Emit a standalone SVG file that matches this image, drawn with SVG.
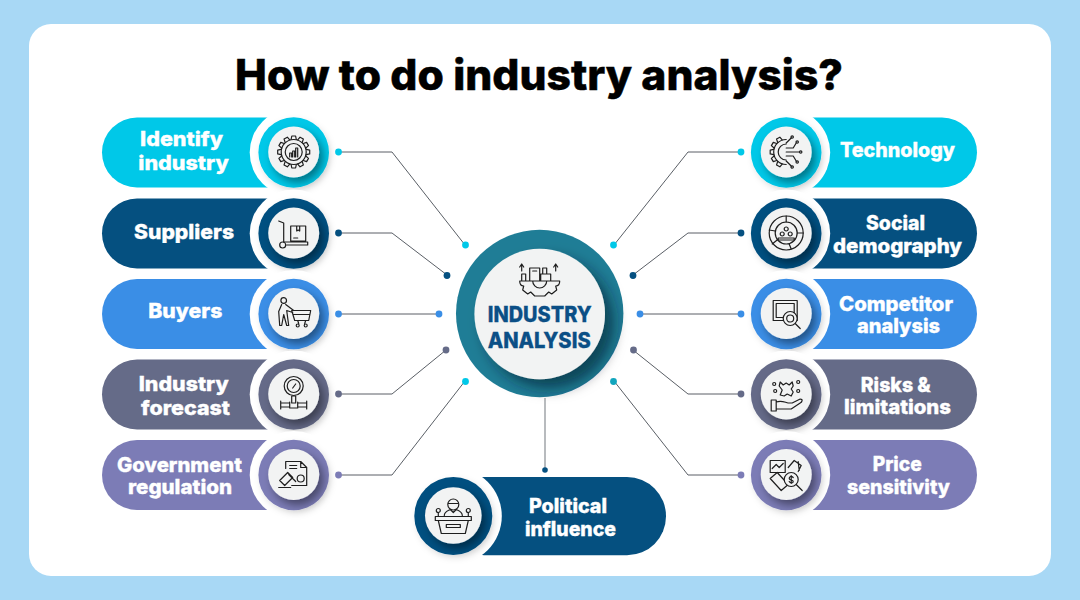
<svg xmlns="http://www.w3.org/2000/svg" width="1080" height="600" viewBox="0 0 1080 600">
<style>
text{font-family:"Inter","Open Sans","Liberation Sans",sans-serif;font-weight:800}
.t{fill:#fff;stroke:#fff;stroke-width:.35;font-size:20px}
.ct{fill:#0b4f86;stroke:#0b4f86;stroke-width:.3;font-size:21.5px}
.ttl{fill:#000;stroke:#000;stroke-width:.5;font-size:42px}
.ln{fill:none;stroke:#5a5f66;stroke-width:1}
.ic{fill:none;stroke:#1e1e1e;stroke-width:1.2;stroke-linejoin:round;stroke-linecap:round}
.face{fill:#f2f3f3;filter:url(#sh)}
.cut{fill:#fff}
.ring{filter:url(#cs)}
.cy{fill:#00c8e8}.nv{fill:#055080}.bl{fill:#3a8ee6}.sl{fill:#656b88}.pu{fill:#7c7cb6}
</style>
<defs>
<filter id="sh" x="-40%" y="-40%" width="190%" height="190%"><feDropShadow dx="4" dy="5" stdDeviation="4" flood-color="#000" flood-opacity=".42"/></filter>
<filter id="sh2" x="-30%" y="-30%" width="170%" height="170%"><feDropShadow dx="9" dy="9" stdDeviation="7" flood-color="#00222e" flood-opacity=".6"/></filter>
<filter id="cs" x="-20%" y="-20%" width="145%" height="145%"><feDropShadow dx="2" dy="3" stdDeviation="3" flood-color="#000" flood-opacity=".13"/></filter>
<path id="tooth" d="M-2.600 -12.500L-1.900 -16H1.900L2.600 -12.500"/>
</defs>
<rect width="1080" height="600" fill="#a8d8f5"/>
<rect x="29" y="24" width="1022" height="552" rx="22" fill="#fff"/>
<text class="ttl" x="235" y="90" textLength="608" lengthAdjust="spacingAndGlyphs">How to do industry analysis?</text>

<g id="node-identify-industry">
<rect class="cy" x="102" y="117.500" width="200" height="70" rx="35"/><circle class="cut" cx="293.700" cy="152.500" r="44"/><circle class="cy ring" cx="293.700" cy="152.500" r="35.300"/><circle class="face" cx="293.700" cy="152" r="25.500"/>
<g class="ic" transform="translate(293.700 152)"><circle r="12.500"/><circle r="8.500"/><use href="#tooth"/><use href="#tooth" transform="rotate(30)"/><use href="#tooth" transform="rotate(60)"/><use href="#tooth" transform="rotate(90)"/><use href="#tooth" transform="rotate(120)"/><use href="#tooth" transform="rotate(150)"/><use href="#tooth" transform="rotate(180)"/><use href="#tooth" transform="rotate(210)"/><use href="#tooth" transform="rotate(240)"/><use href="#tooth" transform="rotate(270)"/><use href="#tooth" transform="rotate(300)"/><use href="#tooth" transform="rotate(330)"/><path d="M-4 5V1H-2V5M-1 5V-1H1V5M2 5V-4H4V5"/></g>
<text class="t" x="140" y="146" textLength="83" lengthAdjust="spacingAndGlyphs">Identify</text><text class="t" x="138.300" y="169.500" textLength="90.500" lengthAdjust="spacingAndGlyphs">industry</text>
</g>

<g id="node-suppliers">
<rect class="nv" x="102" y="198.500" width="200" height="70" rx="35"/><circle class="cut" cx="293.700" cy="233.500" r="44"/><circle class="nv ring" cx="293.700" cy="233.500" r="35.300"/><circle class="face" cx="293.700" cy="233" r="25.500"/>
<g class="ic" transform="translate(293.700 233)"><path d="M-15 -12L-10 -10V9M-10 9H14V12H-7M-3 -7H12V8H-3ZM3 -7V-2L4.500 -3L6 -2V-7M0 5H4"/><circle cx="-11" cy="12" r="3"/></g>
<text class="t" x="134" y="238.500" textLength="100" lengthAdjust="spacingAndGlyphs">Suppliers</text>
</g>

<g id="node-buyers">
<rect class="bl" x="102" y="279" width="200" height="70" rx="35"/><circle class="cut" cx="293.700" cy="314" r="44"/><circle class="bl ring" cx="293.700" cy="314" r="35.300"/><circle class="face" cx="293.700" cy="313.500" r="25.500"/>
<g class="ic" transform="translate(293.700 313.500)"><circle cx="-10" cy="-13" r="2.800"/><path d="M-12 -9L-15 -2L-14 12H-12L-10 1L-7 12H-5L-7 -3L-1 -1M-8 -9L0 -3M-2 -3H17L15 7H1ZM0 1H16M4 7L5 10M12 7L11 10"/><circle cx="4" cy="12" r="1.500"/><circle cx="12" cy="12" r="1.500"/></g>
<text class="t" x="148.300" y="318" textLength="74" lengthAdjust="spacingAndGlyphs">Buyers</text>
</g>

<g id="node-industry-forecast">
<rect class="sl" x="102" y="359.500" width="200" height="70" rx="35"/><circle class="cut" cx="293.700" cy="394.500" r="44"/><circle class="sl ring" cx="293.700" cy="394.500" r="35.300"/><circle class="face" cx="293.700" cy="394" r="25.500"/>
<g class="ic" transform="translate(293.700 394)"><circle cy="-8" r="9.500"/><circle cy="-8" r="6.500"/><path d="M-1 -6L2 -10M-2 2H2V9H-2ZM-13 7V15M13 7V15M-13 9H-4V13H-13M13 9H4V13H13M-4 8V14H4V8"/></g>
<text class="t" x="138.700" y="390.500" textLength="90" lengthAdjust="spacingAndGlyphs">Industry</text><text class="t" x="141" y="414.500" textLength="89" lengthAdjust="spacingAndGlyphs">forecast</text>
</g>

<g id="node-government-regulation">
<rect class="pu" x="102" y="440" width="200" height="70" rx="35"/><circle class="cut" cx="293.700" cy="475" r="44"/><circle class="pu ring" cx="293.700" cy="475" r="35.300"/><circle class="face" cx="293.700" cy="474.500" r="25.500"/>
<g class="ic" transform="translate(293.700 474.500)"><path d="M-8 -6V-13H7L13 -7V11H-2M7 -13V-7H13M-4 -9H3M-4 -6H3"/><circle cx="7" cy="4" r="3.500"/><path d="M-14 6L-6 -2L-1 3L-9 11ZM-15 13H-3M-5 0L2 7"/></g>
<text class="t" x="117" y="471.500" textLength="125" lengthAdjust="spacingAndGlyphs">Government</text><text class="t" x="128" y="493.500" textLength="104" lengthAdjust="spacingAndGlyphs">regulation</text>
</g>

<g id="node-technology">
<rect class="cy" x="778" y="117.500" width="199" height="70" rx="35"/><circle class="cut" cx="786.200" cy="152.500" r="44"/><circle class="cy ring" cx="786.200" cy="152.500" r="35.300"/><circle class="face" cx="786.200" cy="152" r="25.500"/>
<g class="ic" transform="translate(786.200 152)"><path d="M0 -12.500A12.500 12.500 0 0 0 0 12.500M0 -8A8 8 0 0 0 0 8"/><use href="#tooth" transform="rotate(-30)"/><use href="#tooth" transform="rotate(-60)"/><use href="#tooth" transform="rotate(-90)"/><use href="#tooth" transform="rotate(-120)"/><use href="#tooth" transform="rotate(-150)"/><path d="M0 -9L5 -14M0 -4H7L10 -9M0 0H13M0 4H7L10 9M0 9L5 14"/><circle cx="6" cy="-15" r="1.200"/><circle cx="11" cy="-10" r="1.200"/><circle cx="14.500" cy="0" r="1.200"/><circle cx="11" cy="10" r="1.200"/><circle cx="6" cy="15" r="1.200"/></g>
<text class="t" x="840" y="156.500" textLength="115" lengthAdjust="spacingAndGlyphs">Technology</text>
</g>

<g id="node-social-demography">
<rect class="nv" x="778" y="198.500" width="199" height="70" rx="35"/><circle class="cut" cx="786.200" cy="233.500" r="44"/><circle class="nv ring" cx="786.200" cy="233.500" r="35.300"/><circle class="face" cx="786.200" cy="233" r="25.500"/>
<g class="ic" transform="translate(786.200 233)"><circle r="17"/><circle r="11"/><path d="M0 -11V-17M11 0H17M-9 7L-14 11M3 11L5 16M-11 -2L-17 -3"/><circle cx="0" cy="-4" r="2"/><circle cx="-4" cy="1" r="2"/><circle cx="4" cy="1" r="2"/><path d="M-8 7V5H8V7Z"/></g>
<text class="t" x="866" y="229.500" textLength="59" lengthAdjust="spacingAndGlyphs">Social</text><text class="t" x="833" y="252.500" textLength="129" lengthAdjust="spacingAndGlyphs">demography</text>
</g>

<g id="node-competitor-analysis">
<rect class="bl" x="778" y="279" width="199" height="70" rx="35"/><circle class="cut" cx="786.200" cy="314" r="44"/><circle class="bl ring" cx="786.200" cy="314" r="35.300"/><circle class="face" cx="786.200" cy="313.500" r="25.500"/>
<g class="ic" transform="translate(786.200 313.500)"><path d="M-13 -13H11V7H-13ZM-10 -10H8V4H-10ZM9 10L14 15"/><circle cx="4" cy="5" r="7" fill="#f2f3f3"/><circle cx="4" cy="5" r="3.500"/></g>
<text class="t" x="839" y="310.500" textLength="114" lengthAdjust="spacingAndGlyphs">Competitor</text><text class="t" x="857" y="332.500" textLength="83" lengthAdjust="spacingAndGlyphs">analysis</text>
</g>

<g id="node-risks-limitations">
<rect class="sl" x="778" y="359.500" width="199" height="70" rx="35"/><circle class="cut" cx="786.200" cy="394.500" r="44"/><circle class="sl ring" cx="786.200" cy="394.500" r="35.300"/><circle class="face" cx="786.200" cy="394" r="25.500"/>
<g class="ic" transform="translate(786.200 394)"><path d="M-15 6H-10V17H-15ZM-10 8C-5 6 -2 8 2 9H6L14 5C17 5 16 8 14 9L5 15H-10M-6 -12L-3 -9L0 -11L3 -9L6 -12L7 -8L5 -5L7 -2L5 2L1 0L-2 2L-6 1L-4 -4L-7 -8Z"/><circle cx="-12" cy="-10" r="1.500"/><circle cx="12" cy="-12" r="1.500"/><circle cx="-11" cy="-3" r="1.500"/><circle cx="12" cy="-3" r="1.500"/></g>
<text class="t" x="860.700" y="391.500" textLength="70" lengthAdjust="spacingAndGlyphs">Risks &amp;</text><text class="t" x="844" y="413.500" textLength="107" lengthAdjust="spacingAndGlyphs">limitations</text>
</g>

<g id="node-price-sensitivity">
<rect class="pu" x="778" y="440" width="199" height="70" rx="35"/><circle class="cut" cx="786.200" cy="475" r="44"/><circle class="pu ring" cx="786.200" cy="475" r="35.300"/><circle class="face" cx="786.200" cy="474.500" r="25.500"/>
<g class="ic" transform="translate(786.200 474.500)"><path d="M-16 -14H-1V-2H-16ZM-14 -6L-10 -10L-7 -7L-3 -11M2 -7L8 -14L15 -9L12 -3M12 -13L13 -4M-16 4L-9 -2L2 10L-5 16ZM10 10L16 16"/><circle cx="5" cy="5" r="7" fill="#f2f3f3"/><path d="M7 3C5 1 3 2 3 4C3 6 7 5 7 7C7 9 4 9 3 7M5 1V9"/></g>
<text class="t" x="872.700" y="471" textLength="49" lengthAdjust="spacingAndGlyphs">Price</text><text class="t" x="847" y="493.500" textLength="103" lengthAdjust="spacingAndGlyphs">sensitivity</text>
</g>

<g id="node-political-influence">
<rect class="nv" x="445" y="477" width="221" height="78.300" rx="39"/><circle class="cut" cx="453.300" cy="516" r="48.500"/><circle class="nv ring" cx="453.300" cy="516" r="39"/><circle class="face" cx="453.300" cy="515.500" r="28.300"/>
<g class="ic" transform="translate(453.300 515.500)"><circle cy="-11" r="5.500"/><path d="M-5 -12H5M-9 0C-9 -4 -5 -5 -3 -6L0 -3L3 -6C5 -5 9 -4 9 0M-18 1H18V5H-18ZM-15 5L-12 18H12L15 5M-7 9H7V12H-7ZM-15 -3V1M15 -3V1"/><circle cx="-15" cy="-5" r="2"/><circle cx="15" cy="-5" r="2"/></g>
<text class="t" x="529" y="513" textLength="78" lengthAdjust="spacingAndGlyphs">Political</text><text class="t" x="525" y="536" textLength="91" lengthAdjust="spacingAndGlyphs">influence</text>
</g>

<g id="node-industry-analysis">
<circle fill="#1f7d96" cx="539.700" cy="313.500" r="83.700"/><circle fill="#f2f3f3" filter="url(#sh2)" cx="539.700" cy="314" r="65.300"/>
<g class="ic" transform="translate(539.700 282)"><path d="M-18 -1L-14 -1V-8H-18ZM-10 -1V-14H0V-1M1 -1V-8H11V-1M3 -8V-14H7V-8M-7 -11H-3M-20 -1H20C20 3 18 4 16 4L17 8L12 12L9 10L5 14H-5L-9 10L-12 12L-17 8L-16 4C-18 4 -20 3 -20 -1ZM-7 -1A7 7 0 0 0 7 -1M-18 -11V-18M-20 -15L-18 -18L-16 -15M16 -11V-18M14 -15L16 -18L18 -15"/></g>
<text class="ct" x="487.700" y="322.300" textLength="104" lengthAdjust="spacingAndGlyphs">INDUSTRY</text><text class="ct" x="487.700" y="348.300" textLength="103" lengthAdjust="spacingAndGlyphs">ANALYSIS</text>
</g>

<g id="connectors">
<path class="ln" d="M339 152H392L465 245"/><path class="ln" d="M339 233H392L447 275"/><path class="ln" d="M339 314H439"/><path class="ln" d="M339 394H392L446 350"/><path class="ln" d="M339 475H392L465 381"/>
<path class="ln" d="M741 152H688L614 245"/><path class="ln" d="M741 233H688L633 275"/><path class="ln" d="M741 314H640"/><path class="ln" d="M741 394H688L633 350"/><path class="ln" d="M741 475H688L614 381"/>
<path d="M545 398V470" fill="none" stroke="#9a9ea3" stroke-width="1.4"/>
<circle class="cy" cx="338.500" cy="152" r="3.400"/><circle class="nv" cx="338.500" cy="233" r="3.400"/><circle class="bl" cx="338.500" cy="314" r="3.400"/><circle class="sl" cx="338.500" cy="394" r="3.400"/><circle class="pu" cx="338.500" cy="475" r="3.400"/>
<circle class="cy" cx="741" cy="152" r="3.400"/><circle class="nv" cx="741" cy="233" r="3.400"/><circle class="bl" cx="741" cy="314" r="3.400"/><circle class="sl" cx="741" cy="394" r="3.400"/><circle class="pu" cx="741" cy="475" r="3.400"/>
<circle class="cy" cx="465.500" cy="245" r="3.400"/><circle class="nv" cx="447" cy="275.500" r="3.400"/><circle class="bl" cx="439" cy="314" r="3.400"/><circle class="sl" cx="446" cy="350" r="3.400"/><circle class="cy" cx="465.500" cy="381.500" r="3.400"/>
<circle class="cy" cx="613.500" cy="245" r="3.400"/><circle class="nv" cx="633" cy="275.500" r="3.400"/><circle class="bl" cx="640" cy="314" r="3.400"/><circle class="sl" cx="633.500" cy="350" r="3.400"/><circle fill="#12a5bd" cx="613.500" cy="381.500" r="3.400"/>
<circle class="nv" cx="545" cy="470" r="2.800"/>
</g>
</svg>
